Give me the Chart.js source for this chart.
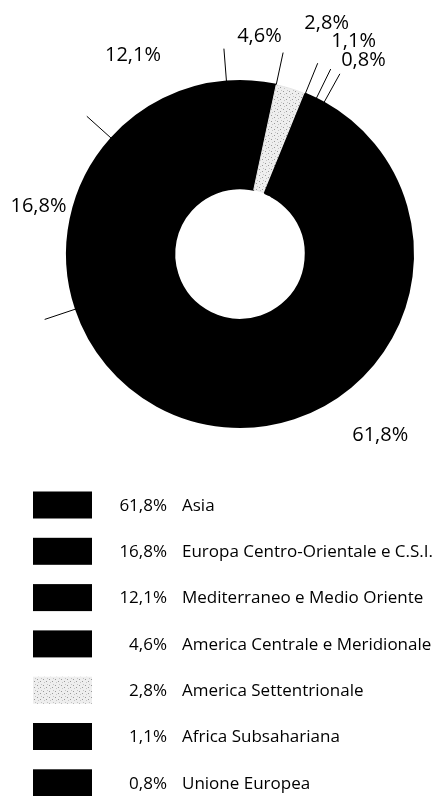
<!DOCTYPE html>
<html><head><meta charset="utf-8">
<script src="https://cdn.jsdelivr.net/npm/chart.js@4/dist/chart.umd.min.js"></script>
<style>html,body{margin:0;padding:0;background:#fff;}canvas{display:block;}</style>
</head><body>
<canvas id="c" width="436" height="796"></canvas>
<script>
// ---- data ----
const categories = ['Asia', 'Europa Centro-Orientale e C.S.I.', 'Mediterraneo e Medio Oriente',
  'America Centrale e Meridionale', 'America Settentrionale', 'Africa Subsahariana', 'Unione Europea'];
const shares = [61.8, 16.8, 12.1, 4.6, 2.8, 1.1, 0.8];

// ---- styling / layout (not data) ----
function stipple() {
  const p = document.createElement('canvas');
  p.width = 6; p.height = 6;
  const g = p.getContext('2d');
  g.fillStyle = '#eeeeee'; g.fillRect(0, 0, 6, 6);
  g.fillStyle = '#9a9a9a'; g.fillRect(1, 1, 1, 1); g.fillRect(4, 3, 1, 1);
  g.fillStyle = '#c4c4c4'; g.fillRect(2, 4, 1, 1); g.fillRect(5, 0, 1, 1);
  return document.getElementById('c').getContext('2d').createPattern(p, 'repeat');
}
const pat = stipple();
const sliceColors = ['#000', '#000', '#000', '#000', pat, '#000', '#000'];
const sliceBorders = ['#000', '#000', '#000', '#000', '#e6e6e6', '#000', '#000'];
const sliceBorderWidths = [2, 2, 2, 2, 1, 2, 2];
// label offset outside the ring: extra radius (px) and angular shift (deg)
const labelPlacement = [
  { dr: 56, da: 2 }, { dr: 34, da: 1.5 }, { dr: 53, da: -2 }, { dr: 46, da: 1.3 },
  { dr: 73, da: 3.5 }, { dr: 68, da: 4 }, { dr: 57, da: 4.9 }];
const fmt = v => v.toFixed(1).replace('.', ',') + '%';
const FONT = '"Open Sans", "Noto Sans", sans-serif';

const annotate = {
  id: 'annotate',
  afterDatasetsDraw(chart) {
    const ctx = chart.ctx;
    const arcs = chart.getDatasetMeta(0).data;
    ctx.save();
    // leader lines at the end boundary of each slice
    ctx.strokeStyle = '#000';
    ctx.lineWidth = 1;
    arcs.forEach(a => {
      const ang = a.endAngle;
      const r0 = a.outerRadius + 0.5, r1 = a.outerRadius + 33;
      ctx.beginPath();
      ctx.moveTo(a.x + r0 * Math.cos(ang), a.y + r0 * Math.sin(ang));
      ctx.lineTo(a.x + r1 * Math.cos(ang), a.y + r1 * Math.sin(ang));
      ctx.stroke();
    });
    // percentage labels
    ctx.fillStyle = '#000';
    ctx.font = '20px ' + FONT;
    ctx.textAlign = 'center';
    ctx.textBaseline = 'middle';
    arcs.forEach((a, i) => {
      const lp = labelPlacement[i];
      const mid = (a.startAngle + a.endAngle) / 2 + lp.da * Math.PI / 180;
      const r = a.outerRadius + lp.dr;
      ctx.fillText(fmt(shares[i]), a.x + r * Math.cos(mid), a.y + r * Math.sin(mid));
    });
    // legend
    const top = 505, step = 46.3;
    ctx.font = '17px ' + FONT;
    categories.forEach((name, i) => {
      const cy = top + i * step;
      ctx.fillStyle = sliceColors[i];
      ctx.fillRect(33, cy - 13.5, 59, 27);
      ctx.fillStyle = '#000';
      ctx.textAlign = 'right';
      ctx.fillText(fmt(shares[i]), 167, cy + 1);
      ctx.textAlign = 'left';
      ctx.fillText(name, 182, cy + 1);
    });
    ctx.restore();
  }
};

new Chart(document.getElementById('c'), {
  type: 'doughnut',
  data: {
    labels: categories,
    datasets: [{
      data: shares,
      backgroundColor: sliceColors,
      borderColor: sliceBorders,
      borderWidth: sliceBorderWidths
    }]
  },
  options: {
    responsive: false,
    animation: false,
    devicePixelRatio: 1,
    rotation: 29,
    cutout: '38%',
    layout: { padding: { left: 66, right: 22, top: 80, bottom: 368 } },
    plugins: { legend: { display: false }, tooltip: { enabled: false } }
  },
  plugins: [annotate]
});
</script>
</body></html>
